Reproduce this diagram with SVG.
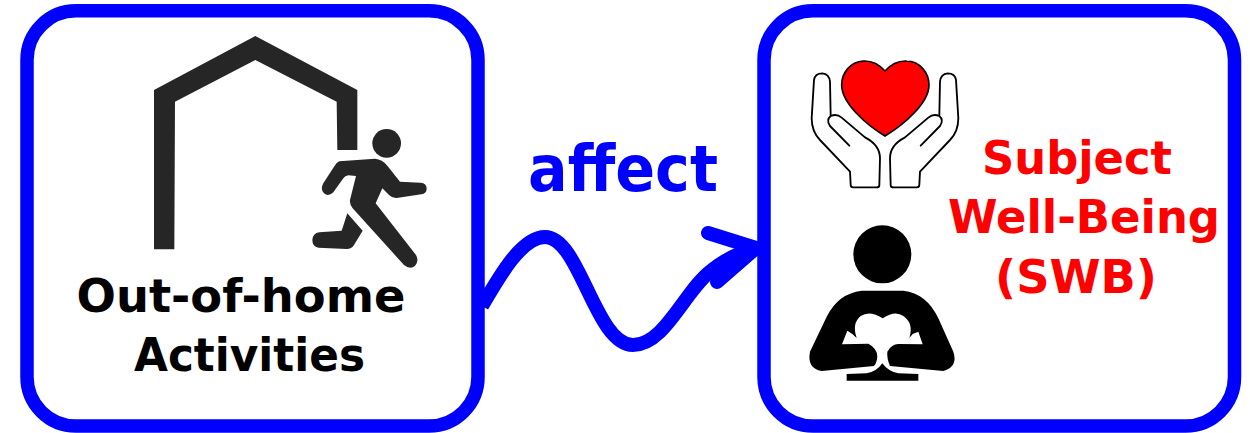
<svg xmlns="http://www.w3.org/2000/svg" width="1250" height="433" viewBox="0 0 1250 433">
<style>
.box{fill:#fff;stroke:#0000ff;stroke-width:13.500}
.t{font-family:"DejaVu Sans",Verdana,sans-serif;font-weight:700;text-anchor:middle}
.blk{fill:#000;font-size:47px}
.red{fill:#ff0000;font-size:46px}
.dark{fill:#262626}
.ln{fill:none;stroke:#000;stroke-width:5.500;stroke-linejoin:round;stroke-linecap:round}
</style>
<rect width="1250" height="433" fill="#fff"/>
<g id="node-activities">
<rect class="box" x="27" y="10.800" width="451" height="415.200" rx="49"/>
<g class="dark" transform="translate(130 20) scale(.33333)">
<path d="M72 210L376 48L682 210L682 390L622 390L620 245L376 120L135 245L133 688L72 688Z"/>
<circle cx="770" cy="370" r="43"/>
<path d="M628 424L735 416Q757 418 772 437L810 485L872 488Q890 490 890 506Q890 520 874 523L800 534Q787 535 778 526L757 505L737 550L858 705Q868 722 855 738Q840 750 822 735L668 565Q658 552 660 540L678 468L655 466Q645 468 640 475L610 517Q595 532 582 520Q570 508 580 490L612 440Q618 428 628 424Z"/>
<path d="M652 580L698 632L672 675Q665 687 650 687L565 683Q547 680 547 660Q548 640 568 637L635 632Z"/>
</g>
<text class="t blk" x="241" y="312" textLength="329" lengthAdjust="spacingAndGlyphs">Out-of-home</text>
<text class="t blk" x="249.500" y="371" textLength="231" lengthAdjust="spacingAndGlyphs">Activities</text>
</g>
<g id="node-swb">
<rect class="box" x="764" y="10.800" width="470.500" height="415.200" rx="49"/>
<g transform="translate(790 50) scale(.33333)">
<path d="M285 63C265 40 240 32 220 33C180 35 155 70 155 105C155 160 230 225 285 258C340 225 417 160 417 105C417 70 390 33 350 33C325 32 305 40 285 63Z" fill="#ff0000" stroke="#000" stroke-width="5"/>
<g id="hand-left">
<path class="ln" d="M262 412L190 412Q182 412 182 404L180 365L90 270Q65 245 65 205L72 90Q75 70 97 70Q118 72 120 95L122 195"/>
<path class="ln" d="M178 287L120 228Q108 210 122 198Q140 190 155 203L225 262Q270 285 270 325L268 405Q268 412 262 412"/>
</g>
<g id="hand-right" transform="translate(570 0) scale(-1 1)">
<path class="ln" d="M262 412L190 412Q182 412 182 404L180 365L90 270Q65 245 65 205L72 90Q75 70 97 70Q118 72 120 95L122 195"/>
<path class="ln" d="M178 287L120 228Q108 210 122 198Q140 190 155 203L225 262Q270 285 270 325L268 405Q268 412 262 412"/>
</g>
</g>
<g transform="translate(790 210) scale(.33333)" fill="#000">
<circle cx="277" cy="133" r="87"/>
<path d="M215 242L340 242Q410 250 445 325L490 425Q505 470 460 483L300 468Q290 445 292 425Q305 402 325 402L398 403L385 365L368 372L358 384Q372 340 340 318Q315 300 278 325Q240 300 212 318Q185 340 200 384L187 372L172 362L156 403L235 401Q262 415 262 440Q260 460 252 468L95 483Q50 475 60 425L110 320Q145 250 215 242Z"/>
<path d="M170 492L230 490Q260 485 277 460Q295 485 325 490L385 492L385 512L170 512Z"/>
</g>
<text class="t red" x="1077" y="174" textLength="190" lengthAdjust="spacingAndGlyphs">Subject</text>
<text class="t red" x="1084" y="233" textLength="272" lengthAdjust="spacingAndGlyphs">Well-Being</text>
<text class="t red" x="1076" y="293" textLength="162" lengthAdjust="spacingAndGlyphs">(SWB)</text>
</g>
<g id="connectors" fill="none" stroke="#0000ff" stroke-width="14" stroke-linecap="round" stroke-linejoin="round">
<path stroke-linecap="butt" d="M482 306C500 275 522 237 545 237C580 237 595 345 633 345C665 345 685 290 712 270C726 259 740 252 756 248"/>
<path d="M708 233L756 248L717 282"/>
</g>
<text class="t" x="623" y="191" fill="#0000ff" font-size="64" textLength="190" lengthAdjust="spacingAndGlyphs">affect</text>
</svg>
